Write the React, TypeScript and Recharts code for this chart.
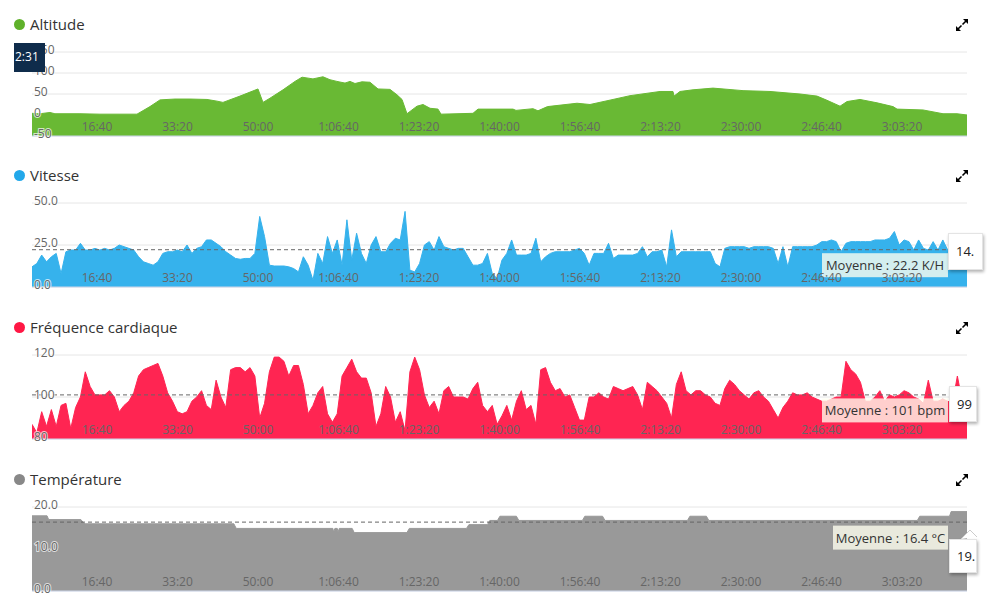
import React from 'react';
import { AreaChart, Area, XAxis, YAxis, CartesianGrid, ReferenceLine } from 'recharts';

// ---------- data ----------
const T_START = 193;
const T_END = 11807;
const SAMPLE_STEP = 60.18; // seconds between speed / heart-rate samples

const timeTicks = [1000, 2000, 3000, 4000, 5000, 6000, 7000, 8000, 9000, 10000, 11000];

const altitudeTimes = [193, 292, 416, 478, 789, 1037, 1286, 1497, 1658, 1783, 1969, 2155, 2366, 2429, 2491, 2565, 2776, 3000, 3062, 3149, 3311, 3460, 3547, 3683, 3807, 3894, 3981, 4081, 4143, 4205, 4292, 4391, 4491, 4640, 4727, 4789, 4851, 4975, 5050, 5137, 5236, 5273, 5671, 5733, 6168, 6205, 6416, 6478, 6596, 6963, 7124, 7410, 7621, 7994, 8155, 8168, 8242, 8404, 8652, 9025, 9360, 9733, 9944, 10068, 10230, 10317, 10478, 10689, 10888, 10938, 11261, 11509, 11683, 11807];
const altitudeValues = [4, 3, 6, 3, 3, 2, 2, 2, 20, 36, 38, 38, 37, 35, 33, 30, 45, 62, 30, 40, 60, 80, 90, 86, 91, 84, 80, 76, 80, 75, 79, 78, 62, 61, 48, 37, 3, 21, 25, 16, 14, 2, 4, 14, 14, 11, 15, 10, 20, 28, 25, 37, 46, 56, 56, 45, 56, 60, 64, 58, 56, 50, 45, 35, 21, 32, 37, 29, 20, 14, 12, 3, 3, 0];

const speedValues = [
  12, 14, 19, 15, 18, 20, 8, 21, 22, 22,
  26, 22, 22, 23, 22, 23, 22, 23, 25, 24,
  23, 22, 18, 15, 14, 13, 15, 20, 21, 21,
  22, 21, 25, 20, 23, 24, 28, 28, 26, 24,
  21, 19, 17, 16.5, 17, 17, 20, 42, 30, 13,
  12.5, 12.5, 12.5, 12, 11, 9, 18, 13, 4, 20,
  14, 30, 20, 28, 13, 40, 16, 32, 20, 14,
  25, 30, 21, 21, 26, 29, 28, 45, 10, 9,
  14, 25, 27, 22, 30, 24, 23, 22, 23, 23,
  18, 13, 13, 14, 20, 8, 5, 16, 20, 28,
  19, 19, 19, 20, 29, 15, 18, 20, 21, 21,
  21, 21, 22, 23, 20, 13, 20, 20, 20, 26,
  17, 19, 19, 19, 19, 20, 24, 18, 21, 21,
  22, 12, 34, 18, 21, 21, 21, 21, 21, 21,
  21, 14, 12, 23, 24, 24, 24, 24, 23, 24,
  24, 24, 24, 23, 14, 24, 12, 24, 24, 24,
  24, 24, 25, 27, 27, 28, 27, 21, 26, 27,
  27, 27, 27, 27, 28, 28, 28, 29, 33, 25,
  28, 27, 22, 28, 23, 22, 27, 22, 28, 22,
  13, 24, 16, 14,
];

const heartRateValues = [
  87, 83, 93, 86, 94, 86, 96, 97, 85, 95,
  100, 112, 105, 101, 101, 101, 103, 100, 93, 96,
  98, 102, 110, 113, 114, 115, 116, 110, 102, 98,
  93, 92, 93, 98, 100, 103, 96, 94, 108, 100,
  95, 113, 114, 114, 112, 114, 110, 90, 97, 112,
  119, 119, 117, 110, 115, 115, 106, 92, 96, 102,
  105, 92, 88, 92, 110, 114, 118, 112, 109, 109,
  102, 86, 92, 105, 100, 88, 93, 84, 112, 119,
  113, 101, 95, 98, 92, 103, 105, 100, 100, 100,
  99, 104, 107, 96, 93, 96, 87, 91, 96, 89,
  98, 103, 94, 96, 87, 113, 114, 107, 103, 104,
  100, 101, 95, 89, 89, 100, 100, 102, 100, 99,
  105, 104, 103, 104, 105, 101, 94, 107, 105, 103,
  100, 97, 90, 106, 112, 103, 101, 103, 103, 101,
  100, 97, 96, 104, 108, 106, 103, 101, 99, 102,
  103, 100, 98, 94, 90, 95, 98, 102, 101, 101,
  102, 100, 99, 98, 98, 99, 100, 100, 117, 113,
  111, 107, 98, 98, 100, 103, 98, 101, 100, 101,
  103, 102, 100, 99, 97, 108, 98, 98, 99, 98,
  97, 110, 98, 99,
];

const temperatureTimes = [193, 380, 400, 800, 830, 851, 2700, 2730, 3930, 3940, 3955, 3985, 3995, 4010, 4170, 4195, 4850, 4880, 5590, 5620, 5850, 5880, 5975, 6005, 6210, 6240, 7030, 7060, 7280, 7310, 8335, 8365, 8570, 8600, 11190, 11220, 11590, 11610, 11807];
const temperatureValues = [17.9, 17.9, 17.0, 17.0, 16.3, 16.0, 16.0, 14.9, 14.9, 14.0, 14.9, 14.9, 14.0, 14.9, 14.9, 13.9, 13.9, 14.9, 14.9, 15.8, 15.8, 16.8, 16.8, 17.8, 17.8, 16.8, 16.8, 17.8, 17.8, 16.8, 16.8, 17.8, 17.8, 16.8, 16.8, 17.8, 17.8, 18.9, 18.9];

const altitudeTicks = [-50, 0, 50, 100, 150];
const speedTicks = [0, 25, 50];
const heartRateTicks = [80, 100, 120];
const temperatureTicks = [0, 10, 20];

const speedAverage = 22.2;
const heartRateAverage = 101;
const temperatureAverage = 16.4;

// ---------- helpers ----------
const pad2 = (n: number) => (n < 10 ? '0' + n : '' + n);
const formatTime = (t: number) => {
  const h = Math.floor(t / 3600);
  const m = Math.floor((t % 3600) / 60);
  const s = Math.round(t % 60);
  return h > 0 ? `${h}:${pad2(m)}:${pad2(s)}` : `${pad2(m)}:${pad2(s)}`;
};

const altitudeData = altitudeTimes.map((t, i) => ({ t, v: altitudeValues[i] }));
const speedData = speedValues.map((v, i) => ({ t: T_START + i * SAMPLE_STEP, v }));
const heartRateData = heartRateValues.map((v, i) => ({ t: T_START + i * SAMPLE_STEP, v }));
const temperatureData = temperatureTimes.map((t, i) => ({ t, v: temperatureValues[i] }));

const W = 994;
const PLOT_LEFT = 32;
const PLOT_RIGHT = 967;
const PLOT_H = 84;
const PAD_T = 12;
const PAD_B = 4;

const XTick = (props: any) => {
  const { x, y, payload } = props;
  return (
    <text x={x} y={y - 5} textAnchor="middle" fill="#666" fontSize={12}>
      {formatTime(payload.value)}
    </text>
  );
};

const makeYTick = (fmt: (v: number) => string) => (props: any) => {
  const { x, y, payload } = props;
  return (
    <text
      x={x + 2}
      y={y + 1.5}
      textAnchor="start"
      fill="#666"
      fontSize={12}
      stroke="rgba(255,255,255,0.7)"
      strokeWidth={2}
      paintOrder="stroke"
    >
      {fmt(payload.value)}
    </text>
  );
};

const makeAvgLabel = (text: string, boxWidth: number) => (props: any) => {
  const vb = props.viewBox || {};
  const right = vb.x + vb.width - 19;
  const top = vb.y + 3.5;
  return (
    <g>
      <rect x={right - boxWidth} y={top} width={boxWidth} height={24} fill="rgba(255,255,240,0.78)" />
      <text
        x={right - boxWidth / 2}
        y={top + 12}
        textAnchor="middle"
        dominantBaseline="central"
        fontSize={13}
        fill="#333"
      >
        {text}
      </text>
    </g>
  );
};

const ExpandIcon = ({ left, top }: { left: number; top: number }) => (
  <svg style={{ position: 'absolute', left, top }} width={12} height={12} viewBox="0 0 12 12">
    <line x1={6.5} y1={5.5} x2={10} y2={2} stroke="#000" strokeWidth={1.6} />
    <polygon points="12,0 12,5 7,0" fill="#000" />
    <line x1={5.5} y1={6.5} x2={2} y2={10} stroke="#000" strokeWidth={1.6} />
    <polygon points="0,12 0,7 5,12" fill="#000" />
  </svg>
);

type PanelProps = {
  title: string;
  color: string;
  dotColor: string;
  plotTop: number;
  data: { t: number; v: number }[];
  domain: [number, number];
  ticks: number[];
  tickFormat: (v: number) => string;
  average?: number;
  averageText?: string;
  averageBoxWidth?: number;
};

const Panel = (p: PanelProps) => {
  const YTick = makeYTick(p.tickFormat);
  return (
    <>
      <div
        style={{
          position: 'absolute',
          left: 14,
          top: p.plotTop - 33,
          width: 11,
          height: 11,
          borderRadius: '50%',
          background: p.dotColor,
        }}
      />
      <div
        style={{
          position: 'absolute',
          left: 30,
          top: p.plotTop - 39,
          fontSize: 15,
          lineHeight: '22px',
          color: '#333',
          whiteSpace: 'nowrap',
        }}
      >
        {p.title}
      </div>
      <ExpandIcon left={956} top={p.plotTop - 33} />
      <div style={{ position: 'absolute', left: 0, top: p.plotTop - PAD_T }}>
        <AreaChart
          width={W}
          height={PLOT_H + PAD_T + PAD_B + 1}
          data={p.data}
          margin={{ top: PAD_T, right: W - PLOT_RIGHT, bottom: PAD_B, left: PLOT_LEFT - 1 }}
        >
          <CartesianGrid vertical={false} stroke="#e6e6e6" />
          <Area
            type="linear"
            dataKey="v"
            stroke={p.color}
            strokeWidth={1}
            fill={p.color}
            fillOpacity={1}
            baseValue="dataMin"
            dot={false}
            activeDot={false}
            isAnimationActive={false}
          />
          {p.average !== undefined && (
            <ReferenceLine
              y={p.average}
              stroke="#666"
              strokeDasharray="4 3"
              label={makeAvgLabel(p.averageText || '', p.averageBoxWidth || 120)}
            />
          )}
          <XAxis
            dataKey="t"
            type="number"
            domain={[T_START, T_END]}
            allowDataOverflow
            ticks={timeTicks}
            interval={0}
            height={1}
            tickSize={0}
            tickMargin={0}
            tickLine={false}
            axisLine={{ stroke: '#ccd6eb' }}
            tick={(props: any) => <XTick {...props} />}
          />
          <YAxis
            type="number"
            domain={p.domain}
            allowDataOverflow
            ticks={p.ticks}
            interval={0}
            width={1}
            tickSize={0}
            tickMargin={0}
            tickLine={false}
            axisLine={false}
            tick={(props: any) => <YTick {...props} />}
          />
        </AreaChart>
      </div>
    </>
  );
};

const SideTip = ({ left, top, width, height, text }: any) => (
  <div
    style={{
      position: 'absolute',
      left,
      top,
      width,
      height,
      background: '#fff',
      boxShadow: '1px 2px 3px rgba(0,0,0,0.3)',
      border: '1px solid #e4e4e4',
      boxSizing: 'border-box',
      overflow: 'hidden',
      fontSize: 13,
      color: '#222',
      lineHeight: `${height - 2}px`,
      paddingLeft: 7,
      whiteSpace: 'nowrap',
    }}
  >
    {text}
  </div>
);

export default function App() {
  return (
    <div
      style={{
        position: 'absolute',
        left: 0,
        top: 0,
        width: W,
        height: 597,
        overflow: 'hidden',
        background: '#fff',
        fontFamily: '"Open Sans", sans-serif',
      }}
    >
      <Panel
        title="Altitude"
        color="#69b934"
        dotColor="#5fb12a"
        plotTop={52}
        data={altitudeData}
        domain={[-50, 150]}
        ticks={altitudeTicks}
        tickFormat={(v) => String(v)}
      />
      <Panel
        title="Vitesse"
        color="#36b2ec"
        dotColor="#22a8ea"
        plotTop={203}
        data={speedData}
        domain={[0, 50]}
        ticks={speedTicks}
        tickFormat={(v) => v.toFixed(1)}
        average={speedAverage}
        averageText={`Moyenne : ${speedAverage} K/H`}
        averageBoxWidth={126}
      />
      <Panel
        title="Fréquence cardiaque"
        color="#ff2552"
        dotColor="#ff1744"
        plotTop={355}
        data={heartRateData}
        domain={[80, 120]}
        ticks={heartRateTicks}
        tickFormat={(v) => String(v)}
        average={heartRateAverage}
        averageText={`Moyenne : ${heartRateAverage} bpm`}
        averageBoxWidth={126}
      />
      <Panel
        title="Température"
        color="#999999"
        dotColor="#888888"
        plotTop={507}
        data={temperatureData}
        domain={[0, 20]}
        ticks={temperatureTicks}
        tickFormat={(v) => v.toFixed(1)}
        average={temperatureAverage}
        averageText={`Moyenne : ${temperatureAverage} °C`}
        averageBoxWidth={115}
      />

      {/* crosshair time label */}
      <div
        style={{
          position: 'absolute',
          left: 14,
          top: 43,
          width: 31,
          height: 29,
          background: '#0f2c4b',
          overflow: 'hidden',
        }}
      >
        <div
          style={{
            position: 'absolute',
            left: 1,
            top: 5,
            lineHeight: '18px',
            fontSize: 12,
            color: '#fff',
            whiteSpace: 'nowrap',
          }}
        >
          2:31
        </div>
      </div>

      {/* hover tooltips at the right edge */}
      <SideTip left={948} top={233} width={35} height={37} text="14." />
      <SideTip left={949} top={386} width={28} height={36} text="99" />
      <SideTip left={949} top={539} width={28} height={34} text="19." />
      <svg style={{ position: 'absolute', left: 960, top: 528 }} width={18} height={12}>
        <polyline points="1,11 10,2 17,9" fill="#fff" stroke="#ccc" strokeWidth={1} />
      </svg>
    </div>
  );
}
